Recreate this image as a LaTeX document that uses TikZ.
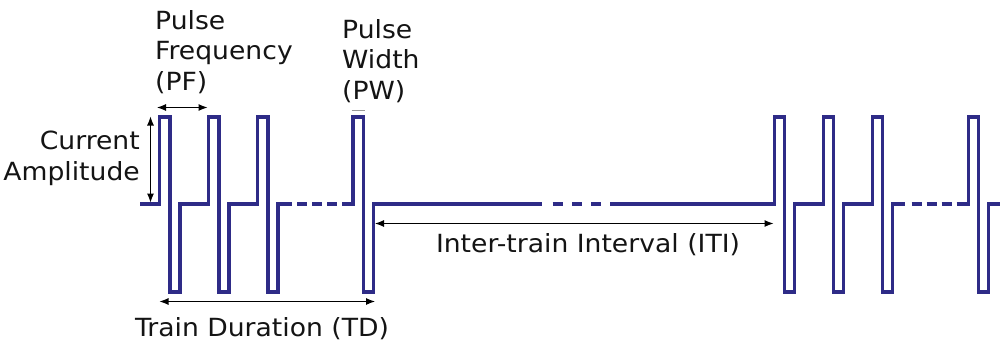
\documentclass[tikz,border=0pt]{standalone}
\usepackage{fontspec}
\setmainfont[FakeStretch=1.065]{DejaVu Sans}
\usetikzlibrary{arrows.meta}
\definecolor{wave}{RGB}{46,43,135}
\definecolor{txt}{RGB}{20,20,20}
\newcommand\pls[1]{-- ({#1},204) -- ({#1},117) -- ({#1+10.5},117) -- ({#1+10.5},292) -- ({#1+20.5},292) -- ({#1+20.5},204)}
\begin{document}
\begin{tikzpicture}[x=1pt,y=-1pt,
  wv/.style={draw=wave,line width=3.3pt,line join=miter,line cap=butt},
  dim/.style={draw=black,line width=1.1pt,{Latex[length=9pt,width=7pt]}-{Latex[length=9pt,width=7pt]}},
  lbl/.style={inner sep=0pt,text=txt,font=\fontsize{25}{30.5}\selectfont,align=left}]
\useasboundingbox[fill=white] (0,0) rectangle (1000,348);
% waveform, train 1
\draw[wv] (140,204) \pls{159.5} \pls{208.5} \pls{257.5} -- (292,204);
\foreach \a in {297,312,327} \draw[wv] (\a,204) -- (\a+10,204);
\draw[wv] (342,204) \pls{353} -- (542,204);
\foreach \a in {552.5,572,591} \draw[wv] (\a,204) -- (\a+10,204);
% train 2
\draw[wv] (610,204) \pls{774.3} \pls{823.3} \pls{872.3} -- (905,204);
\foreach \a in {911.7,926.7,941.7} \draw[wv] (\a,204) -- (\a+10,204);
\draw[wv] (956.7,204) \pls{968.2} -- (1002,204);
% dimension coordinates
\coordinate (pfa) at (157,107.5);
\coordinate (pfb) at (207.5,107.5);
\coordinate (ama) at (150.5,116.5);
\coordinate (amb) at (150.5,202.5);
\coordinate (tda) at (159.5,301.5);
\coordinate (tdb) at (375,301.5);
\coordinate (itia) at (375,223.5);
\coordinate (itib) at (773.5,223.5);
\coordinate (pwa) at (351.5,110.5);
\coordinate (pwb) at (365,110.5);
\draw[dim] (pfa) -- (pfb);
\draw[dim] (ama) -- (amb);
\draw[dim] (tda) -- (tdb);
\draw[dim] (itia) -- (itib);
\draw[draw=gray!80,line width=1.6pt] (pwa) -- (pwb);
% labels
\node[lbl,anchor=north west] (pf) at (155,10) {Pulse\\Frequency\\(PF)};
\node[lbl,anchor=north west] (pw) at (342,19) {Pulse\\Width\\(PW)};
\node[lbl,anchor=north east,align=right] (ca) at (140,131) {Current\\Amplitude};
\node[lbl,anchor=base] (iti) at (588,252) {Inter-train Interval (ITI)};
\node[lbl,anchor=base] (td) at (262,336) {Train Duration (TD)};
\end{tikzpicture}
\end{document}
